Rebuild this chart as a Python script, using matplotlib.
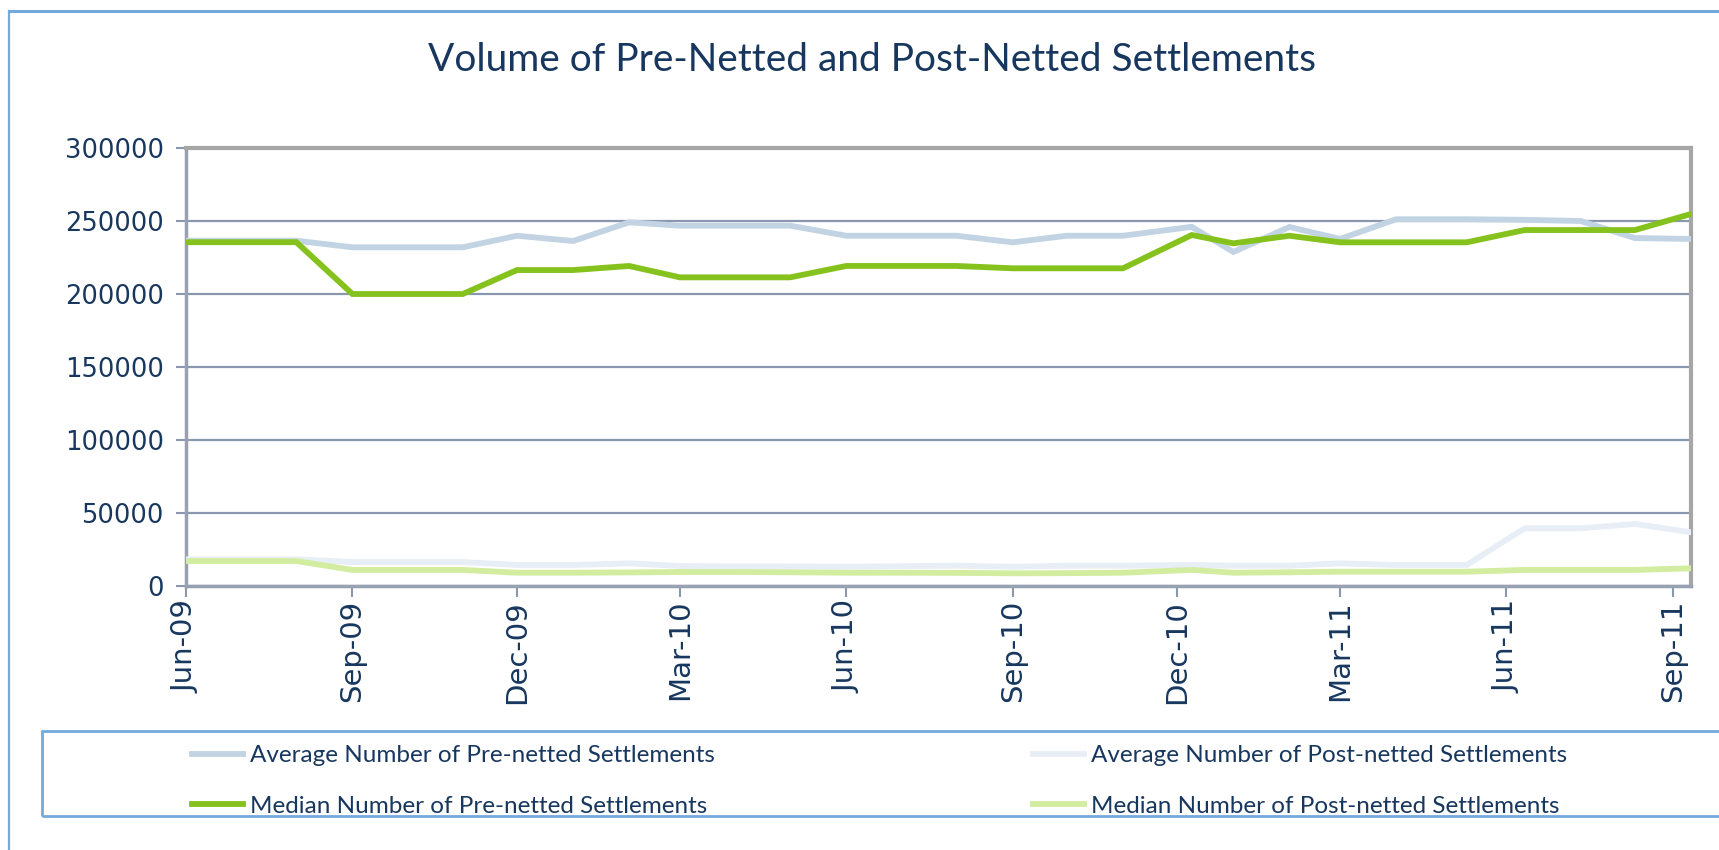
import pandas as pd
import matplotlib
matplotlib.use("Agg")
import matplotlib.pyplot as plt
import matplotlib.dates as mdates
from matplotlib.lines import Line2D
from matplotlib.patches import Rectangle

# ============================
# Data
# ============================
dates = [
    "2009-06-01", "2009-07-01", "2009-08-01", "2009-09-01", "2009-10-01",
    "2009-11-01", "2009-12-01", "2010-01-01", "2010-02-01", "2010-03-01",
    "2010-04-01", "2010-05-01", "2010-06-01", "2010-07-01", "2010-08-01",
    "2010-09-01", "2010-10-01", "2010-11-01", "2010-12-09", "2011-01-01",
    "2011-02-01", "2011-03-01", "2011-04-01", "2011-05-10", "2011-06-11",
    "2011-07-12", "2011-08-11", "2011-09-11",
]

avg_pre = [
    236500, 236500, 236500, 232000, 232000, 232000, 239900, 236300,
    249100, 246800, 246800, 246800, 239900, 239900, 239900, 235400,
    239900, 239900, 246000, 228800, 245900, 237700, 251200, 251200,
    250800, 250000, 238300, 237700,
]
median_pre = [
    235500, 235500, 235500, 200000, 200000, 200000, 216400, 216400,
    219200, 211400, 211400, 211400, 219200, 219200, 219200, 217600,
    217600, 217600, 240400, 234700, 239900, 235400, 235400, 235400,
    243800, 243800, 243800, 254800,
]
avg_post = [
    18300, 18300, 18300, 16400, 16400, 16400, 14400, 14400,
    15500, 13700, 13500, 13400, 13200, 13600, 13900, 13200,
    13900, 13900, 14400, 13900, 13900, 15500, 14400, 14400,
    39500, 39500, 42500, 36800,
]
median_post = [
    17100, 17100, 17100, 11000, 11000, 11000, 9100, 9100,
    9300, 9600, 9600, 9400, 9100, 9100, 9000, 8700,
    8800, 9100, 11000, 9100, 9400, 9800, 9800, 9800,
    11000, 11000, 11000, 12100,
]

labels = [
    "Average Number of Pre-netted Settlements",
    "Median Number of Pre-netted Settlements",
    "Average Number of Post-netted Settlements",
    "Median Number of Post-netted Settlements",
]
colors = ["#C2D3E3", "#86C21D", "#E8EEF5", "#D3EDA0"]

x = pd.to_datetime(dates)

# ============================
# Figure
# ============================
W, H = 1719, 850
fig = plt.figure(figsize=(W / 100, H / 100), dpi=100)
ax = fig.add_axes([186 / W, 1 - 586 / H, (1691 - 186) / W, (586 - 148) / H])

navy = "#17375E"
grid_c = "#8A98AF"

series = [avg_pre, median_pre, avg_post, median_post]
handles = []
# post series underneath, pre series on top
for i in [2, 3, 0, 1]:
    ax.plot(x, series[i], color=colors[i], lw=4.2,
            solid_joinstyle="miter", zorder=3 + i)
for i in range(4):
    handles.append(Line2D([0], [0], color=colors[i], lw=4.2))

ax.set_ylim(0, 300000)
ax.set_yticks(range(0, 300001, 50000))
ax.set_xlim(x[0], x[-1])
ax.yaxis.grid(True, color=grid_c, lw=1.6)
ax.set_axisbelow(True)

ax.xaxis.set_major_locator(mdates.MonthLocator(bymonth=[3, 6, 9, 12]))
ax.xaxis.set_major_formatter(mdates.DateFormatter("%b-%y"))

ax.tick_params(axis="y", length=7, width=1.5, color=grid_c, pad=9,
               labelsize=18.5, labelcolor=navy)
ax.tick_params(axis="x", length=8, width=1.5, color=grid_c, pad=2,
               labelsize=21, labelcolor=navy, labelrotation=90)

for s in ["top", "right"]:
    ax.spines[s].set_color("#A6A6A6")
    ax.spines[s].set_linewidth(3)
for s in ["left", "bottom"]:
    ax.spines[s].set_color("#97A1B1")
    ax.spines[s].set_linewidth(2.5)

# title
fig.text(872 / W, 1 - 60 / H, "Volume of Pre-Netted and Post-Netted Settlements",
         ha="center", va="center", fontsize=28, color=navy, family="Lato")

# outer chart frame (top + left visible)
frame_c = "#74A9DB"
fig.add_artist(Line2D([9 / W, 1], [1 - 11 / H, 1 - 11 / H], color=frame_c, lw=2.2))
fig.add_artist(Line2D([9 / W, 9 / W], [0, 1 - 11 / H], color=frame_c, lw=1.6))

# legend box
fig.add_artist(Rectangle((42 / W, 1 - 816 / H), 1.0, (816 - 731) / H,
                         transform=fig.transFigure, fill=False,
                         edgecolor=frame_c, lw=2))

leg_kw = dict(frameon=False, handlelength=2.1, handletextpad=0.3,
              labelspacing=1.2, borderpad=0, borderaxespad=0,
              loc="center left", labelcolor=navy,
              prop={"family": "Lato", "size": 17.5})
fig.legend(handles[:2], labels[:2], bbox_to_anchor=(192 / W, 1 - 781 / H), **leg_kw)
fig.legend(handles[2:], labels[2:], bbox_to_anchor=(1033 / W, 1 - 781 / H), **leg_kw)

fig.savefig("out.png", dpi=100)
